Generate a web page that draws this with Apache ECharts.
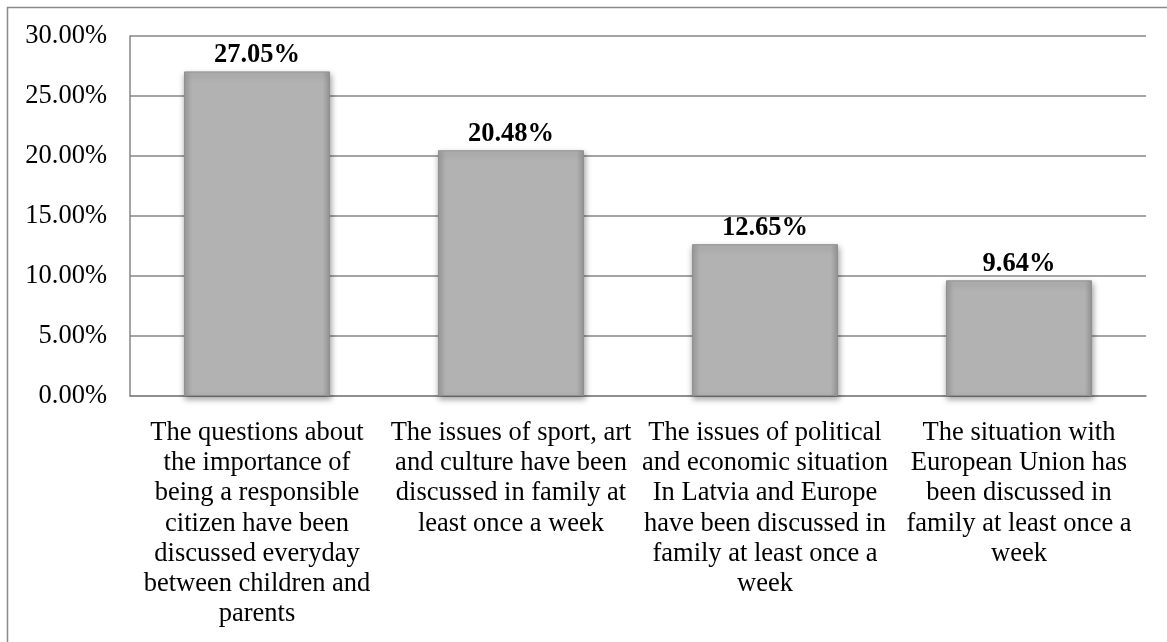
<!DOCTYPE html>
<html>
<head>
<meta charset="utf-8">
<script src="https://cdn.jsdelivr.net/npm/echarts@6/dist/echarts.min.js"></script>
<style>
html,body{margin:0;padding:0;background:#fff;}
#chart{width:1167px;height:642px;}
</style>
</head>
<body>
<div id="chart"></div>
<script>
const categories = [
  "The questions about\nthe importance of\nbeing a responsible\ncitizen have been\ndiscussed everyday\nbetween children and\nparents",
  "The issues of sport, art\nand culture have been\ndiscussed in family at\nleast once a week",
  "The issues of political\nand economic situation\nIn Latvia and Europe\nhave been discussed in\nfamily at least once a\nweek",
  "The situation with\nEuropean Union has\nbeen discussed in\nfamily at least once a\nweek"
];
const values = [27.05, 20.48, 12.65, 9.64];
const yMin = 0, yMax = 30, yStep = 5;

const font = '"Liberation Serif", "Times New Roman", serif';
const chart = echarts.init(document.getElementById('chart'));
chart.setOption({
  backgroundColor: '#ffffff',
  animation: false,
  graphic: [{
    type: 'rect',
    shape: {x: 7.5, y: 7.5, width: 1200, height: 700},
    style: {fill: 'none', stroke: '#8a8a8a', lineWidth: 1.5},
    silent: true
  }],
  grid: {left: 130, right: 21, top: 36, bottom: 246},
  xAxis: {
    type: 'category',
    data: categories,
    axisLine: {show: true, lineStyle: {color: '#868686', width: 1.5}},
    axisTick: {show: false},
    axisLabel: {
      interval: 0, margin: 22, color: '#000',
      fontFamily: font, fontSize: 26.5, lineHeight: 30.2, align: 'center'
    }
  },
  yAxis: {
    type: 'value',
    min: yMin, max: yMax, interval: yStep,
    axisLine: {show: true, lineStyle: {color: '#868686', width: 1.5}},
    axisTick: {show: false},
    splitLine: {show: true, lineStyle: {color: '#868686', width: 1.5}},
    axisLabel: {
      margin: 23, color: '#000', fontFamily: font, fontSize: 26.5,
      formatter: v => v.toFixed(2) + '%'
    }
  },
  series: [{
    type: 'bar',
    data: values,
    barWidth: '57.5%',
    itemStyle: {
      color: {
        type: 'linear', x: 0, y: 0, x2: 1, y2: 0,
        colorStops: [
          {offset: 0, color: '#9c9c9c'},
          {offset: 0.05, color: '#b2b2b2'},
          {offset: 0.95, color: '#b2b2b2'},
          {offset: 1, color: '#979797'}
        ]
      },
      borderColor: '#8f8f8f',
      borderWidth: 1,
      shadowColor: 'rgba(0,0,0,0.35)',
      shadowBlur: 6,
      shadowOffsetY: 3,
      shadowOffsetX: 1
    },
    label: {
      show: true, position: 'top', distance: 3,
      color: '#000', fontFamily: font, fontSize: 26.5, fontWeight: 'bold',
      formatter: p => p.value.toFixed(2) + '%'
    }
  }]
});
</script>
</body>
</html>
